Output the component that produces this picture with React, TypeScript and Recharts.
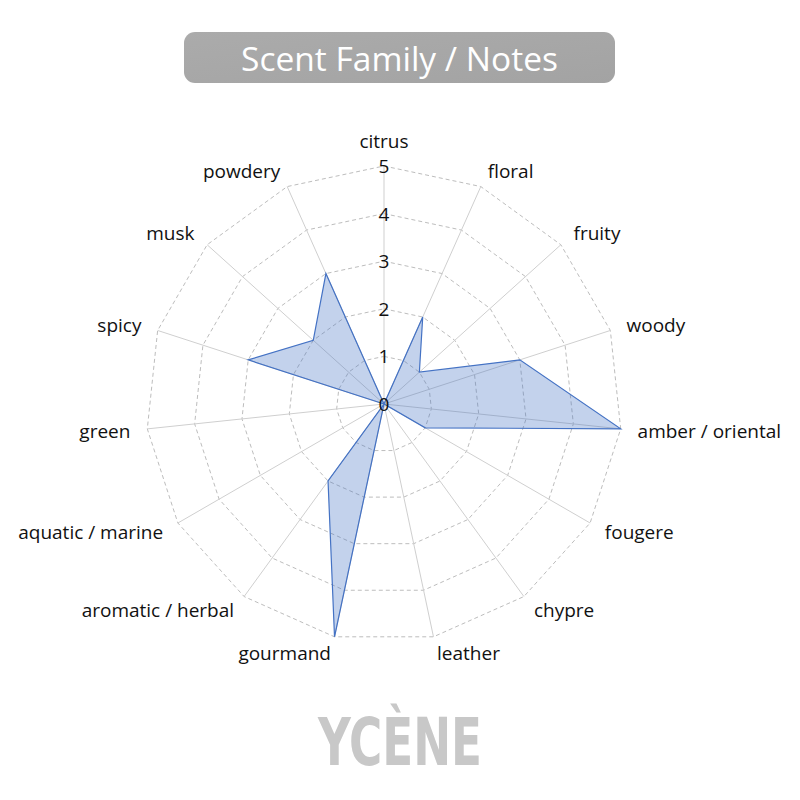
import React from "react";
import { RadarChart, Radar, PolarGrid, PolarAngleAxis, PolarRadiusAxis } from "recharts";

const categories = [
  "citrus",
  "floral",
  "fruity",
  "woody",
  "amber / oriental",
  "fougere",
  "chypre",
  "leather",
  "gourmand",
  "aromatic / herbal",
  "aquatic / marine",
  "green",
  "spicy",
  "musk",
  "powdery",
];
const scores = [0, 2, 1, 3, 5, 1, 0, 0, 5, 2, 0, 0, 3, 2, 3];
const radiusTicks = [0, 1, 2, 3, 4, 5];
const title = "Scent Family / Notes";
const brand = "YCÈNE";

const data = categories.map((c, i) => ({ name: c, value: scores[i] }));

const W = 800;
const H = 800;
const CX = 384;
const CY = 404;
const R = 238;
const FONT = "'Open Sans', 'Noto Sans', sans-serif";

const AngleTick = (props: any) => {
  const { payload } = props;
  const angle = payload.coordinate;
  const rad = (-angle * Math.PI) / 180;
  const cos = Math.cos(rad);
  const sin = Math.sin(rad);
  const vertical = Math.abs(cos) < 1e-3;
  const d = vertical ? 25 : 17;
  const x = CX + (R + d) * cos;
  const y = CY + (R + d) * sin;
  const anchor = vertical ? "middle" : cos > 0 ? "start" : "end";
  return (
    <text
      x={x}
      y={y}
      textAnchor={anchor}
      dominantBaseline="central"
      fontFamily={FONT}
      fontSize={19}
      fill="#111"
    >
      {payload.value}
    </text>
  );
};

const RadiusTick = (props: any) => {
  const { x, y, payload } = props;
  return (
    <text
      x={x}
      y={y}
      textAnchor="middle"
      dominantBaseline="central"
      fontFamily={FONT}
      fontSize={19}
      fill="#111"
    >
      {payload.value}
    </text>
  );
};

export default function App() {
  return (
    <div style={{ position: "absolute", left: 0, top: 0, width: W, height: H, background: "#fff" }}>
      <svg width={W} height={H} style={{ position: "absolute", left: 0, top: 0 }}>
        <defs>
          <linearGradient id="tg" x1="0" y1="0" x2="1" y2="1">
            <stop offset="0" stopColor="#ababab" />
            <stop offset="1" stopColor="#a3a3a3" />
          </linearGradient>
        </defs>
        <rect x={184} y={32} width={431} height={51} rx={11} ry={11} fill="url(#tg)" />
        <text
          x={399.5}
          y={58}
          textAnchor="middle"
          dominantBaseline="central"
          fontFamily={FONT}
          fontSize={33.5}
          fill="#fff"
        >
          {title}
        </text>
        <text
          x={400}
          y={765}
          textAnchor="middle"
          fontFamily="'Liberation Sans Narrow', 'DejaVu Sans Condensed', sans-serif"
          fontWeight={700}
          fontSize={66}
          textLength={164}
          lengthAdjust="spacingAndGlyphs"
          fill="#c8c8c8"
        >
          {brand}
        </text>
      </svg>
      <div style={{ position: "absolute", left: 0, top: 0 }}>
        <RadarChart width={W} height={H} data={data} cx={CX} cy={CY} outerRadius={R} startAngle={90} endAngle={-270}>
          <PolarGrid gridType="polygon" radialLines={false} stroke="#bdbdbd" strokeDasharray="4 3" />
          <PolarGrid gridType="polygon" polarRadius={[]} stroke="#cfcfcf" />
          <PolarAngleAxis dataKey="name" tick={<AngleTick />} axisLine={false} tickLine={false} />
          <PolarRadiusAxis
            angle={90}
            domain={[0, 5]}
            ticks={radiusTicks as any}
            tickCount={6}
            axisLine={false}
            tickLine={false}
            tick={<RadiusTick />}
          />
          <Radar
            dataKey="value"
            stroke="#4472c4"
            strokeWidth={1.2}
            fill="#4472c4"
            fillOpacity={0.32}
            isAnimationActive={false}
          />
        </RadarChart>
      </div>
    </div>
  );
}
